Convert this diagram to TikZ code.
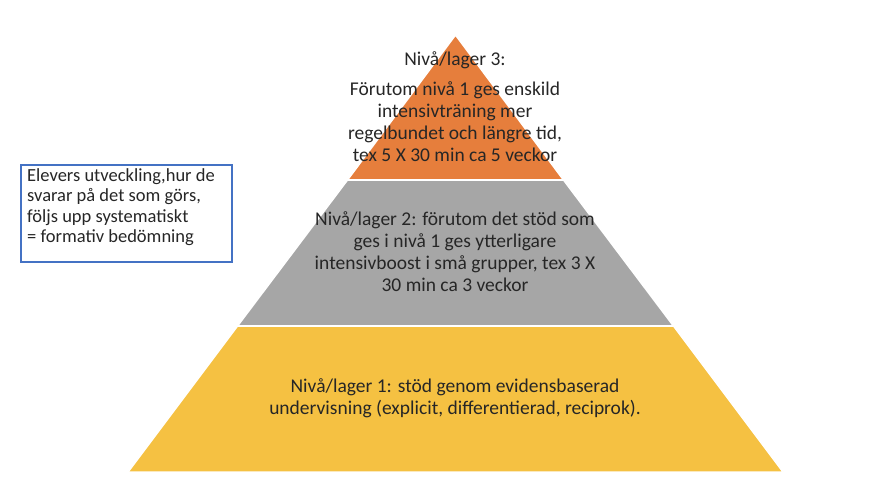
\documentclass[tikz,border=0pt]{standalone}
\usepackage{fontspec}
\setmainfont{Carlito}
\begin{document}
\begin{tikzpicture}[x=1pt,y=-1pt,
 lay/.style={draw=white,line width=1.5pt},
 txt/.style={align=center,font=\fontsize{19.5}{22}\selectfont,text=black!85}]
\useasboundingbox (0,0) rectangle (880,480);
\coordinate (A) at (455.5,35);
\coordinate (L3) at (347.5,180); \coordinate (R3) at (563.5,180);
\coordinate (L2) at (237.5,326); \coordinate (R2) at (673.5,326);
\coordinate (L1) at (128,472); \coordinate (R1) at (783,472);
\fill[lay,fill={rgb,255:red,245;green,193;blue,66}] (L2)--(R2)--(R1)--(L1)--cycle;
\fill[lay,fill={rgb,255:red,166;green,166;blue,166}] (L3)--(R3)--(R2)--(L2)--cycle;
\fill[lay,fill={rgb,255:red,230;green,126;blue,60}] (A)--(R3)--(L3)--cycle;
\draw[white,line width=1.5pt] (L3)--(R3) (L2)--(R2);
\node[txt] (t3a) at (455,60) {Nivå/lager 3:};
\node[txt] (t3) at (455,122) {Förutom nivå 1 ges enskild\\intensivträning mer\\regelbundet och längre tid,\\tex 5 X 30 min ca 5 veckor};
\node[txt] (t2) at (455,252) {Nivå/lager 2: förutom det stöd som\\ges i nivå 1 ges ytterligare\\intensivboost i små grupper, tex 3 X\\30 min ca 3 veckor};
\node[txt] (t1) at (455,398) {Nivå/lager 1: stöd genom evidensbaserad\\undervisning (explicit, differentierad, reciprok).};
\node[draw={rgb,255:red,68;green,114;blue,196},line width=1.5pt,minimum width=211pt,minimum height=97pt,anchor=north west,inner sep=0pt] (box) at (20,164) {};
\node[anchor=north west,align=left,font=\fontsize{18.5}{20.5}\selectfont,text=black!85,inner sep=0pt] (bt) at (27,168) {Elevers utveckling,hur de\\svarar på det som görs,\\följs upp systematiskt\\= formativ bedömning};
\end{tikzpicture}
\end{document}
